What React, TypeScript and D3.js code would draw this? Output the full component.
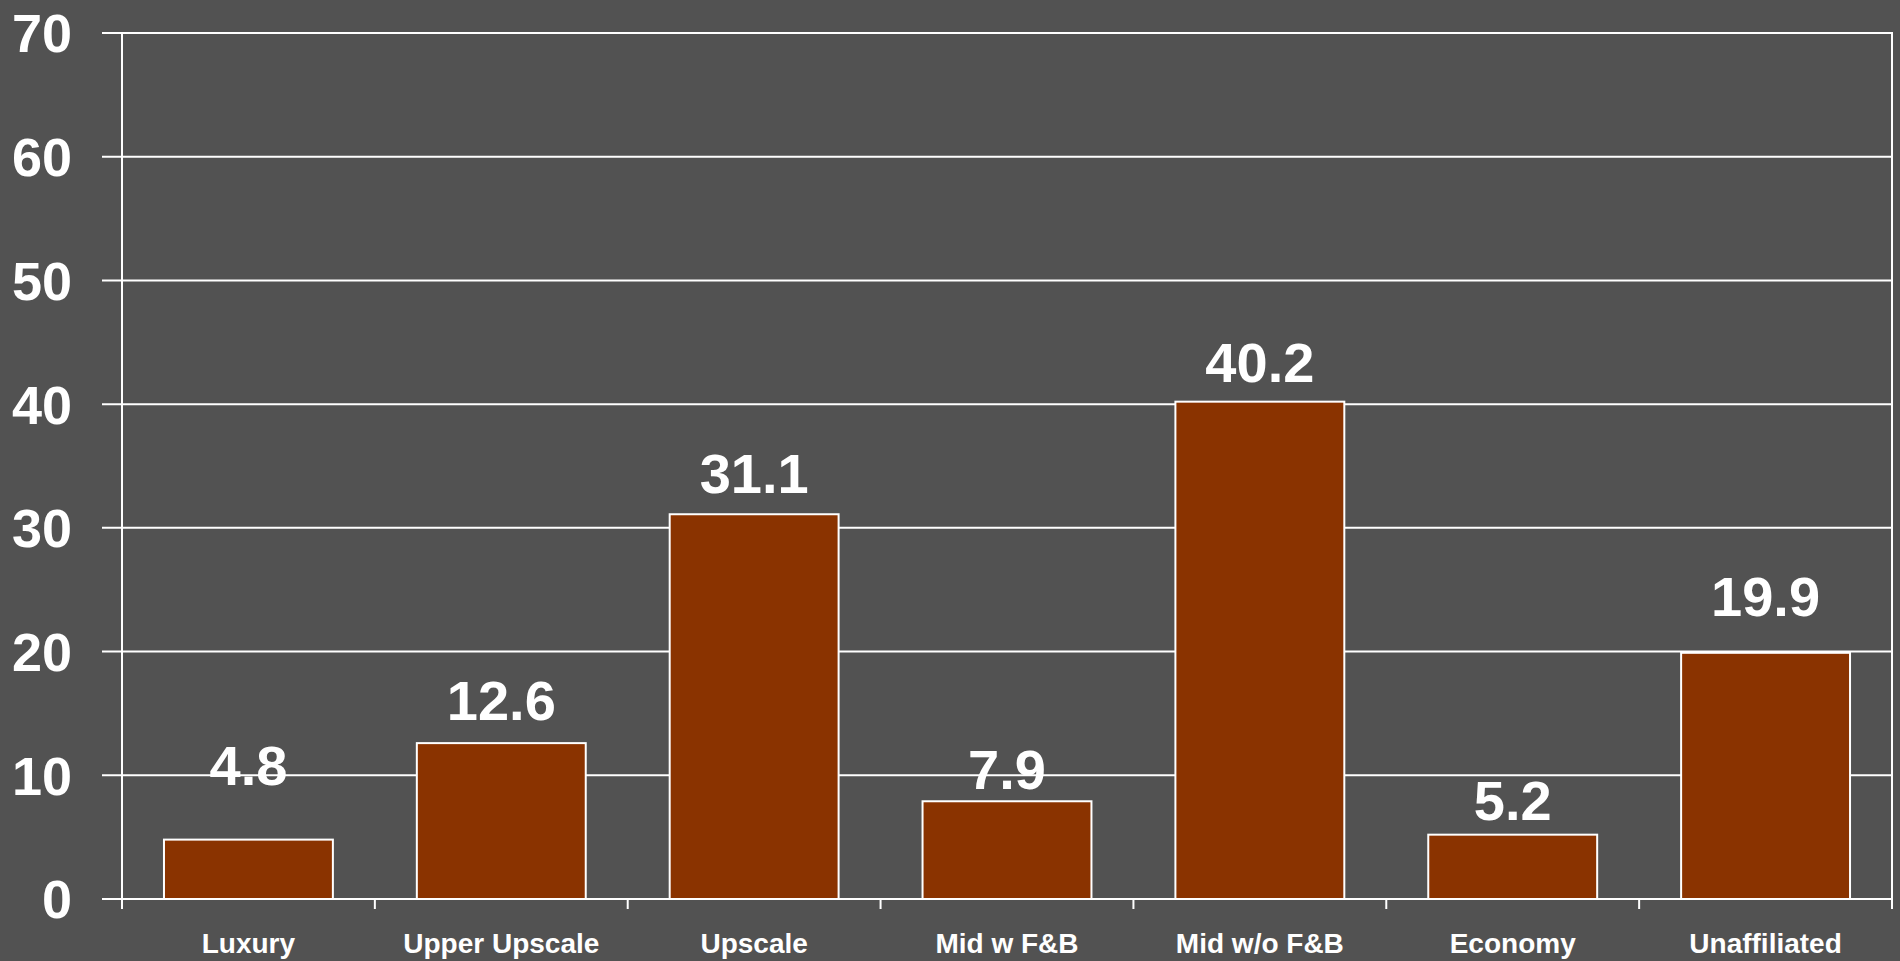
import React from "react";
import * as d3 from "d3";

const categories = ["Luxury", "Upper Upscale", "Upscale", "Mid w F&B", "Mid w/o F&B", "Economy", "Unaffiliated"];
const values = [4.8, 12.6, 31.1, 7.9, 40.2, 5.2, 19.9];
const yTicks = [0, 10, 20, 30, 40, 50, 60, 70];
// gap in px between each bar top and its value label baseline (as placed in the reference)
const labelGap = [55, 23, 21, 12, 20, 15, 37];

const W = 1900;
const H = 961;
const left = 122;
const right = 1892;
const top = 33;
const bottom = 899;
const FONT = "'Liberation Sans', Arial, Helvetica, sans-serif";
const BG = "#525252";
const BAR = "#8A3300";

export default function App() {
  const x = d3.scaleBand<string>().domain(categories).range([left, right]).paddingInner(0.332).paddingOuter(0.166);
  const y = d3.scaleLinear().domain([0, 70]).range([bottom, top]);
  const step = x.step();
  const boundaries = d3.range(categories.length + 1).map((i) => left + i * step);

  return (
    <svg width={W} height={H} style={{ position: "absolute", left: 0, top: 0, display: "block" }}>
      <rect x={0} y={0} width={W} height={H} fill={BG} />
      {yTicks.map((t) => (
        <g key={t}>
          <line x1={left - 20} x2={right} y1={y(t)} y2={y(t)} stroke="#fff" strokeWidth={2} />
          <text x={72} y={y(t)} dy="0.36em" textAnchor="end" fill="#fff" fontFamily={FONT} fontWeight="bold" fontSize={54}>
            {t}
          </text>
        </g>
      ))}
      <line x1={left} x2={left} y1={top} y2={bottom} stroke="#fff" strokeWidth={2} />
      <line x1={right} x2={right} y1={top - 1} y2={bottom} stroke="#fff" strokeWidth={2} />
      {boundaries.map((b, i) => (
        <line key={i} x1={b} x2={b} y1={bottom} y2={bottom + 10} stroke="#fff" strokeWidth={2} />
      ))}
      {categories.map((c, i) => (
        <g key={c}>
          <rect
            x={x(c)!}
            y={y(values[i])}
            width={x.bandwidth()}
            height={bottom - y(values[i])}
            fill={BAR}
            stroke="#fff"
            strokeWidth={2}
          />
          <text
            x={x(c)! + x.bandwidth() / 2}
            y={y(values[i]) - labelGap[i]}
            textAnchor="middle"
            fill="#fff"
            fontFamily={FONT}
            fontWeight="bold"
            fontSize={56}
          >
            {values[i].toFixed(1)}
          </text>
          <text
            x={x(c)! + x.bandwidth() / 2}
            y={953}
            textAnchor="middle"
            fill="#fff"
            fontFamily={FONT}
            fontWeight="bold"
            fontSize={28}
          >
            {c}
          </text>
        </g>
      ))}
    </svg>
  );
}
